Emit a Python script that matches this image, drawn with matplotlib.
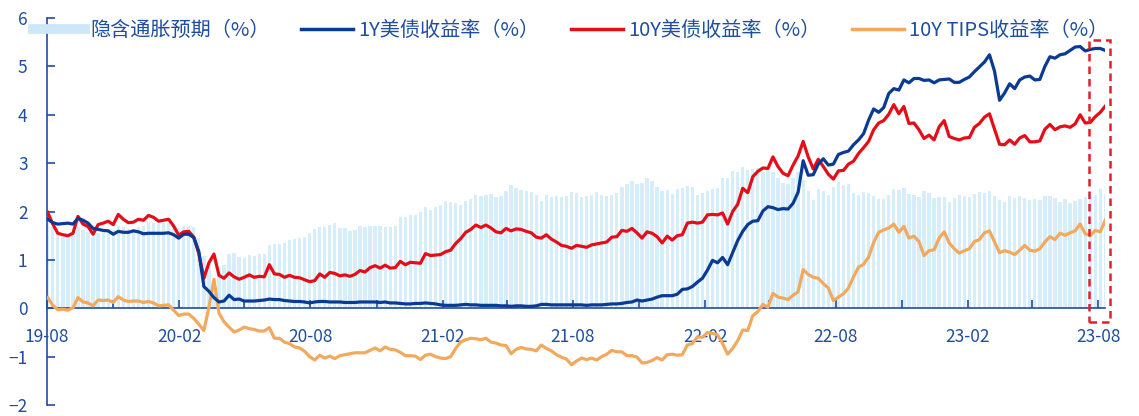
import numpy as np
import pandas as pd
import matplotlib
matplotlib.use("Agg")
import matplotlib.pyplot as plt
import matplotlib.dates as mdates
from matplotlib.lines import Line2D
from matplotlib.patches import Rectangle

plt.rcParams['font.family'] = ['Noto Sans CJK SC', 'DejaVu Sans']

# weekly (Friday) closes, 2019-08-02 .. 2023-08-11
week_start = "2019-08-02"

y1 = [
    # 2019
    1.84, 1.77, 1.74, 1.75, 1.76, 1.74, 1.86, 1.82, 1.76, 1.65, 1.63, 1.61, 1.60,
    1.53, 1.59, 1.57, 1.57, 1.60, 1.58, 1.54, 1.55, 1.55,
    # 2020
    1.55, 1.55, 1.56, 1.52, 1.45, 1.53, 1.53, 1.46, 1.17, 0.45, 0.35, 0.22, 0.13,
    0.15, 0.27, 0.18, 0.19, 0.15, 0.15, 0.15, 0.16, 0.17, 0.19, 0.18, 0.18, 0.16,
    0.15, 0.14, 0.14, 0.13, 0.11, 0.13, 0.14, 0.14, 0.13, 0.13, 0.13, 0.12, 0.12,
    0.12, 0.13, 0.13, 0.13, 0.13, 0.12, 0.13, 0.11, 0.11, 0.10, 0.09, 0.09, 0.10,
    # 2021
    0.10, 0.11, 0.10, 0.09, 0.07, 0.06, 0.06, 0.06, 0.07, 0.08, 0.07, 0.07, 0.06,
    0.06, 0.06, 0.06, 0.05, 0.05, 0.04, 0.05, 0.05, 0.04, 0.04, 0.05, 0.08, 0.08,
    0.07, 0.07, 0.07, 0.07, 0.07, 0.07, 0.07, 0.06, 0.07, 0.07, 0.07, 0.08, 0.09,
    0.09, 0.10, 0.12, 0.13, 0.17, 0.15, 0.17, 0.19, 0.23, 0.26, 0.26, 0.26, 0.29, 0.39,
    # 2022
    0.40, 0.45, 0.54, 0.62, 0.79, 0.99, 0.94, 1.05, 0.90, 1.15, 1.40, 1.59,
    1.73, 1.80, 1.81, 2.01, 2.10, 2.08, 2.04, 2.06, 2.05, 2.17, 2.40, 3.05, 2.75,
    2.76, 2.98, 3.09, 2.96, 2.98, 3.18, 3.22, 3.25, 3.38, 3.48, 3.61, 3.89, 4.12, 4.05,
    4.15, 4.44, 4.54, 4.51, 4.72, 4.66, 4.75, 4.75, 4.71, 4.72, 4.66, 4.72, 4.73,
    # 2023
    4.74, 4.67, 4.67, 4.73, 4.78, 4.89, 4.99, 5.09, 5.24, 4.90, 4.30, 4.45, 4.64,
    4.54, 4.72, 4.78, 4.80, 4.72, 4.73, 5.00, 5.20, 5.17, 5.24, 5.26, 5.33, 5.40,
    5.41, 5.32, 5.35, 5.37, 5.37, 5.33,
]

y10 = [
    # 2019
    1.98, 1.74, 1.55, 1.52, 1.50, 1.55, 1.90, 1.74, 1.69, 1.53, 1.73, 1.76, 1.80,
    1.73, 1.94, 1.84, 1.77, 1.78, 1.84, 1.82, 1.92, 1.88,
    # 2020
    1.80, 1.82, 1.84, 1.70, 1.51, 1.58, 1.59, 1.47, 1.13, 0.62, 0.94, 1.12, 0.68,
    0.62, 0.73, 0.65, 0.60, 0.64, 0.69, 0.64, 0.66, 0.65, 0.90, 0.71, 0.70, 0.64,
    0.68, 0.64, 0.63, 0.59, 0.55, 0.57, 0.71, 0.64, 0.74, 0.72, 0.67, 0.69, 0.66,
    0.70, 0.78, 0.75, 0.84, 0.88, 0.83, 0.89, 0.83, 0.84, 0.97, 0.90, 0.95, 0.94,
    # 2021
    0.93, 1.13, 1.09, 1.10, 1.11, 1.17, 1.20, 1.34, 1.44, 1.57, 1.63, 1.72, 1.67,
    1.72, 1.66, 1.58, 1.56, 1.65, 1.60, 1.64, 1.63, 1.59, 1.56, 1.47, 1.45, 1.52,
    1.43, 1.37, 1.30, 1.28, 1.24, 1.30, 1.28, 1.26, 1.31, 1.33, 1.35, 1.37, 1.47,
    1.48, 1.61, 1.59, 1.65, 1.56, 1.45, 1.58, 1.55, 1.48, 1.35, 1.49, 1.41, 1.50, 1.52,
    # 2022
    1.76, 1.78, 1.76, 1.78, 1.93, 1.94, 1.93, 1.97, 1.74, 2.00, 2.15, 2.48,
    2.39, 2.72, 2.83, 2.90, 2.89, 3.13, 2.93, 2.79, 2.74, 2.96, 3.15, 3.45, 3.13,
    2.88, 3.08, 2.93, 2.77, 2.67, 2.84, 2.85, 2.98, 3.04, 3.20, 3.32, 3.45, 3.69, 3.83,
    3.88, 4.01, 4.21, 4.02, 4.17, 3.82, 3.83, 3.69, 3.51, 3.58, 3.48, 3.75, 3.88,
    # 2023
    3.55, 3.51, 3.48, 3.52, 3.53, 3.74, 3.82, 3.95, 4.02, 3.70, 3.39, 3.38, 3.48,
    3.39, 3.52, 3.57, 3.44, 3.44, 3.46, 3.70, 3.80, 3.69, 3.75, 3.77, 3.74, 3.81,
    4.00, 3.83, 3.84, 3.96, 4.05, 4.18,
]

tips10 = [
    # 2019
    0.22, 0.06, -0.03, -0.02, -0.04, 0.01, 0.22, 0.13, 0.11, 0.05, 0.17, 0.16, 0.17,
    0.12, 0.24, 0.17, 0.14, 0.15, 0.15, 0.12, 0.14, 0.11,
    # 2020
    0.05, 0.06, 0.07, -0.04, -0.15, -0.12, -0.12, -0.21, -0.33, -0.46, 0.02, 0.60, -0.10,
    -0.28, -0.39, -0.49, -0.45, -0.39, -0.42, -0.44, -0.47, -0.47, -0.40, -0.62, -0.62, -0.70,
    -0.73, -0.80, -0.82, -0.89, -1.00, -1.07, -0.97, -1.03, -0.99, -1.04, -0.98, -0.96, -0.94,
    -0.92, -0.92, -0.92, -0.87, -0.82, -0.88, -0.80, -0.85, -0.86, -0.91, -0.98, -0.98, -0.99,
    # 2021
    -1.06, -0.97, -0.95, -1.00, -1.03, -1.04, -1.00, -0.83, -0.70, -0.65, -0.62, -0.63, -0.65,
    -0.62, -0.70, -0.72, -0.76, -0.77, -0.94, -0.85, -0.81, -0.84, -0.85, -0.88, -0.76, -0.83,
    -0.88, -0.96, -1.01, -1.05, -1.17, -1.09, -1.03, -1.06, -1.03, -1.07, -1.00, -0.95, -0.87,
    -0.90, -0.90, -0.98, -0.98, -1.01, -1.13, -1.12, -1.08, -1.02, -1.07, -0.96, -0.95, -0.97, -0.96,
    # 2022
    -0.76, -0.73, -0.59, -0.60, -0.50, -0.52, -0.55, -0.73, -0.95, -0.83, -0.67, -0.45,
    -0.46, -0.15, -0.07, 0.08, 0.02, 0.31, 0.23, 0.21, 0.18, 0.27, 0.34, 0.80, 0.70,
    0.64, 0.62, 0.51, 0.42, 0.16, 0.23, 0.30, 0.42, 0.65, 0.85, 0.91, 1.06, 1.36, 1.57,
    1.62, 1.66, 1.74, 1.57, 1.69, 1.45, 1.49, 1.38, 1.09, 1.19, 1.21, 1.45, 1.58,
    # 2023
    1.35, 1.23, 1.14, 1.19, 1.23, 1.38, 1.42, 1.56, 1.60, 1.37, 1.15, 1.19, 1.16,
    1.11, 1.20, 1.30, 1.20, 1.18, 1.23, 1.37, 1.48, 1.42, 1.55, 1.51, 1.56, 1.60,
    1.74, 1.54, 1.50, 1.61, 1.58, 1.82,
]

tick_labels = ["19-08", "20-02", "20-08", "21-02", "21-08", "22-02", "22-08", "23-02", "23-08"]
legend_labels = ["隐含通胀预期（%）", "1Y美债收益率（%）", "10Y美债收益率（%）", "10Y TIPS收益率（%）"]

AXIS_BLUE = "#1f4e9e"
BAR_COLOR = "#d6edfa"
C_1Y = "#0a3a94"
C_10Y = "#e50d18"
C_TIPS = "#f2a95e"

dates = pd.date_range(week_start, periods=len(y10), freq="W-FRI")
y1 = np.array(y1)
y10 = np.array(y10)
tips10 = np.array(tips10)
breakeven = y10 - tips10  # nominal minus real = implied inflation

fig = plt.figure(figsize=(11.39, 4.16), dpi=100)
ax = fig.add_axes([0.0413, 0.0264, 0.9285, 0.9303])

ax.bar(dates, breakeven, width=4.6, color=BAR_COLOR, linewidth=0, zorder=1)
ax.plot(dates, tips10, color=C_TIPS, lw=2.3, zorder=3)
ax.plot(dates, y10, color=C_10Y, lw=2.3, zorder=4)
ax.plot(dates, y1, color=C_1Y, lw=2.3, zorder=5)

ax.set_ylim(-2, 6)
ax.set_yticks(range(-2, 7))
ax.set_xlim(mdates.date2num(pd.Timestamp("2019-08-01")), mdates.date2num(pd.Timestamp("2023-08-10")))

ticks = pd.date_range("2019-08-01", "2023-08-01", freq="3MS")
ax.set_xticks(ticks)
labels = []
for i in range(len(ticks)):
    labels.append(tick_labels[i // 2] if i % 2 == 0 else "")
ax.set_xticklabels(labels)

for s in ["top", "right"]:
    ax.spines[s].set_visible(False)
ax.spines["bottom"].set_position(("data", 0))
for s in ["left", "bottom"]:
    ax.spines[s].set_color(AXIS_BLUE)
    ax.spines[s].set_linewidth(1.2)

ax.tick_params(axis="y", direction="in", length=6, width=1.2, color=AXIS_BLUE,
               labelcolor=AXIS_BLUE, labelsize=12.5, pad=14)
ax.tick_params(axis="x", direction="in", length=6, width=1.2, color=AXIS_BLUE,
               labelcolor=AXIS_BLUE, labelsize=12.5, pad=14)

# highlight box around the latest readings
x0 = mdates.date2num(pd.Timestamp("2023-07-19"))
x1 = mdates.date2num(pd.Timestamp("2023-08-18"))
ax.add_patch(Rectangle((x0, -0.29), x1 - x0, 5.84, fill=False, edgecolor="#e0202a",
                       lw=1.8, linestyle=(0, (3, 2)), clip_on=False, zorder=6))

handles = [
    Line2D([], [], color="#cde7f8", lw=7),
    Line2D([], [], color=C_1Y, lw=2.5),
    Line2D([], [], color=C_10Y, lw=2.5),
    Line2D([], [], color=C_TIPS, lw=2.5),
]
fig.legend(handles, legend_labels, ncol=4, loc="upper left",
           bbox_to_anchor=(33 / 1139, 1 - 20 / 416), frameon=False,
           fontsize=14.5, labelcolor=AXIS_BLUE, handlelength=2.6,
           handletextpad=0.25, columnspacing=1.55, borderaxespad=0, borderpad=0)

fig.savefig("out.png", dpi=100, facecolor="white")
